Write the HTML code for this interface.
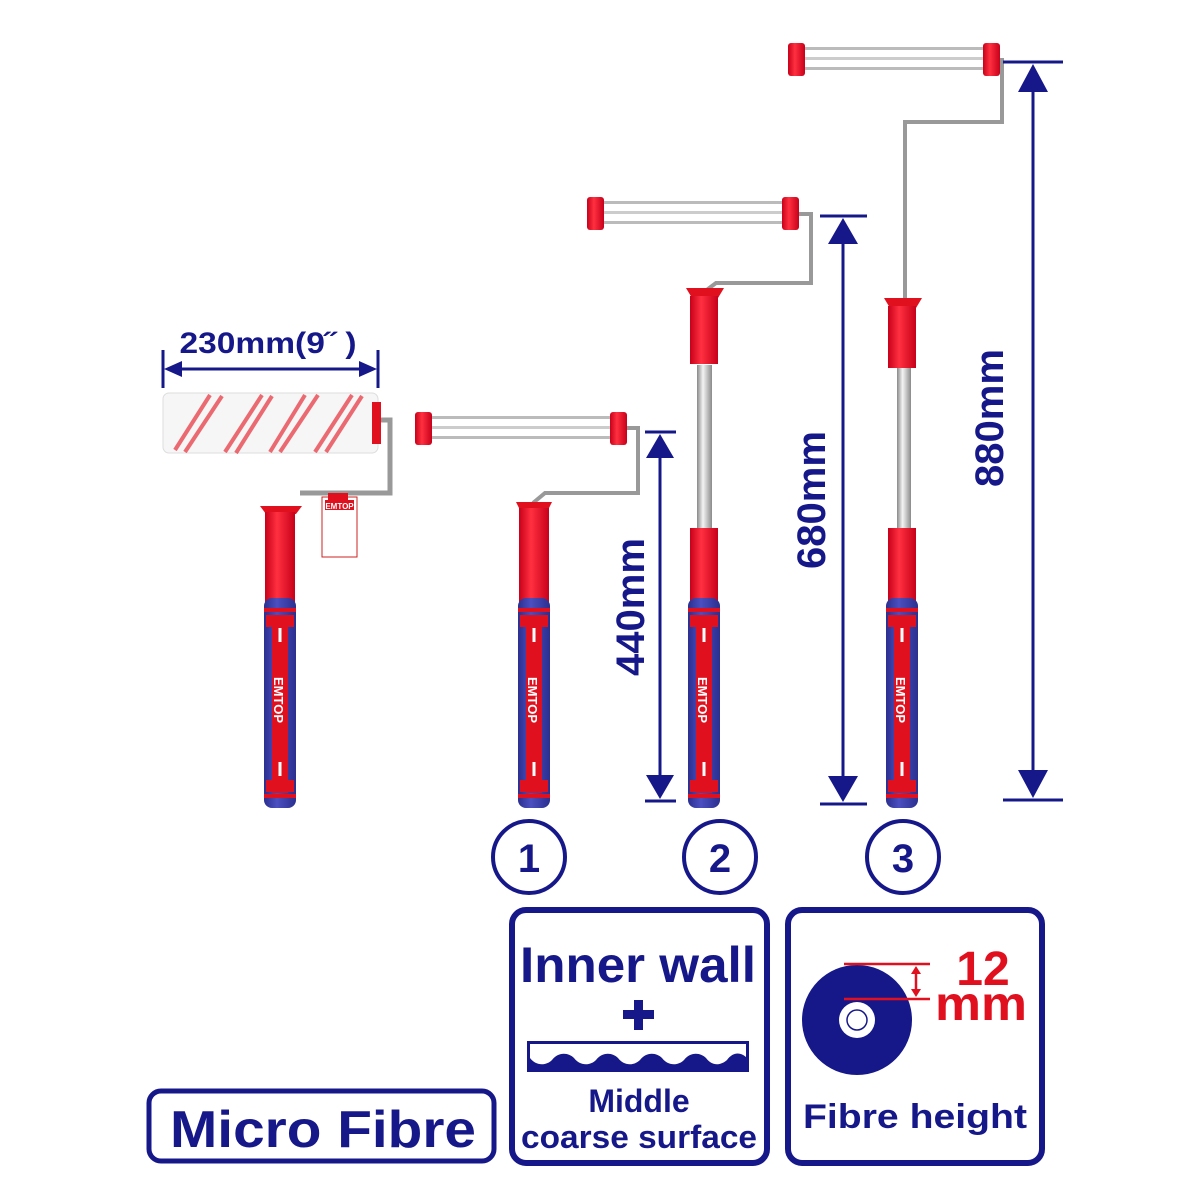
<!DOCTYPE html>
<html><head><meta charset="utf-8"><style>
html,body{margin:0;padding:0;background:#fff}
svg{display:block}
text{font-family:"Liberation Sans",sans-serif;font-weight:bold}
</style></head><body>
<svg width="1200" height="1200" viewBox="0 0 1200 1200" xmlns="http://www.w3.org/2000/svg">
<defs>
<linearGradient id="red" x1="0" x2="1"><stop offset="0" stop-color="#c8001a"/><stop offset=".4" stop-color="#ff3040"/><stop offset="1" stop-color="#c8001a"/></linearGradient>
<linearGradient id="blu" x1="0" x2="1"><stop offset="0" stop-color="#2b2f8f"/><stop offset=".4" stop-color="#4b4fc0"/><stop offset="1" stop-color="#2b2f8f"/></linearGradient>
<linearGradient id="met" x1="0" x2="1"><stop offset="0" stop-color="#888"/><stop offset=".4" stop-color="#f4f4f4"/><stop offset="1" stop-color="#8a8a8a"/></linearGradient>
<g id="grip">
<rect x="-16" y="598" width="32" height="210" rx="8" fill="url(#blu)"/>
<rect x="-16" y="608" width="32" height="4" fill="#e0101e"/>
<rect x="-16" y="794" width="32" height="4" fill="#e0101e"/>
<rect x="-8" y="615" width="16" height="178" fill="#e0101e"/>
<rect x="-14" y="615" width="28" height="12" fill="#e0101e"/>
<rect x="-14" y="780" width="28" height="12" fill="#e0101e"/>
<rect x="-1.5" y="628" width="3" height="14" fill="#fff"/>
<rect x="-1.5" y="762" width="3" height="14" fill="#fff"/>
</g>
<g id="cage">
<rect x="0" y="4" width="212" height="3" fill="#bbb"/>
<rect x="0" y="14" width="212" height="3" fill="#ccc"/>
<rect x="0" y="24" width="212" height="3" fill="#bbb"/>
<rect x="0" y="0" width="17" height="33" rx="3" fill="url(#red)"/>
<rect x="195" y="0" width="17" height="33" rx="3" fill="url(#red)"/>
</g>
</defs>

<!-- Roller 0 -->
<path d="M378 420 H390 V493 H300" fill="none" stroke="#999" stroke-width="5"/>
<rect x="163" y="393" width="215" height="60" rx="6" fill="#f6f6f6" stroke="#ddd"/>
<g stroke="#e8464f" stroke-width="4" fill="none" opacity=".8">
<path d="M175 450 L210 395 M185 452 L222 396 M225 452 L262 395 M236 453 L272 396 M270 452 L305 395 M280 452 L318 395 M315 452 L352 395 M326 452 L362 396"/>
</g>
<rect x="372" y="402" width="9" height="42" fill="#e0101e"/>
<rect x="322" y="497" width="35" height="60" fill="#fff" stroke="#c22"/>
<rect x="325" y="500" width="29" height="10" fill="#e0101e"/>
<text x="339.5" y="509" font-size="8" fill="#fff" text-anchor="middle">EMTOP</text>
<rect x="328" y="493" width="20" height="8" fill="#e0101e"/>
<path d="M260 506 H302 L296 514 H266 Z" fill="#e0101e"/>
<rect x="265" y="512" width="30" height="90" fill="url(#red)"/>
<use href="#grip" x="280"/>
<text transform="translate(274 700) rotate(90)" font-size="13" fill="#fff" text-anchor="middle">EMTOP</text>

<!-- 230 dimension -->
<g stroke="#16188a" stroke-width="3" fill="#16188a">
<line x1="163" y1="350" x2="163" y2="388"/><line x1="378" y1="350" x2="378" y2="388"/>
<line x1="170" y1="369" x2="372" y2="369"/>
<path d="M164 369 L182 361 L182 377Z" stroke="none"/><path d="M377 369 L359 361 L359 377Z" stroke="none"/>
</g>
<text x="268" y="353" font-size="30" fill="#16188a" text-anchor="middle" textLength="177" lengthAdjust="spacingAndGlyphs">230mm(9˝ )</text>

<!-- Tool 1 -->
<path d="M627 428 H638 V493 H545 L533 503" fill="none" stroke="#999" stroke-width="4"/>
<use href="#cage" x="415" y="412"/>
<path d="M516 502 H552 L548 510 H520 Z" fill="#e0101e"/>
<rect x="519" y="508" width="30" height="94" fill="url(#red)"/>
<use href="#grip" x="534"/>
<text transform="translate(528 700) rotate(90)" font-size="13" fill="#fff" text-anchor="middle">EMTOP</text>

<!-- Tool 2 -->
<path d="M798 214 H811 V283 H716 L704 292" fill="none" stroke="#999" stroke-width="4"/>
<use href="#cage" x="587" y="197"/>
<rect x="697" y="365" width="15" height="170" fill="url(#met)"/>
<path d="M686 288 H724 L718 298 H692 Z" fill="#e0101e"/>
<rect x="690" y="296" width="28" height="68" fill="url(#red)"/>
<rect x="690" y="528" width="28" height="74" fill="url(#red)"/>
<use href="#grip" x="704"/>
<text transform="translate(698 700) rotate(90)" font-size="13" fill="#fff" text-anchor="middle">EMTOP</text>

<!-- Tool 3 -->
<path d="M992 60 H1002 V122 H905 V300" fill="none" stroke="#999" stroke-width="4"/>
<use href="#cage" x="788" y="43"/>
<rect x="897" y="368" width="14" height="165" fill="url(#met)"/>
<path d="M884 298 H922 L916 308 H890 Z" fill="#e0101e"/>
<rect x="888" y="306" width="28" height="62" fill="url(#red)"/>
<rect x="888" y="528" width="28" height="74" fill="url(#red)"/>
<use href="#grip" x="902"/>
<text transform="translate(896 700) rotate(90)" font-size="13" fill="#fff" text-anchor="middle">EMTOP</text>

<!-- Dimensions -->
<g stroke="#16188a" stroke-width="3" fill="#16188a">
<line x1="645" y1="432" x2="676" y2="432"/><line x1="645" y1="801" x2="676" y2="801"/>
<line x1="660" y1="450" x2="660" y2="785"/>
<path d="M660 434 L646 458 H674Z" stroke="none"/><path d="M660 799 L646 775 H674Z" stroke="none"/>
<line x1="820" y1="216" x2="867" y2="216"/><line x1="820" y1="804" x2="867" y2="804"/>
<line x1="843" y1="235" x2="843" y2="785"/>
<path d="M843 218 L828 244 H858Z" stroke="none"/><path d="M843 802 L828 776 H858Z" stroke="none"/>
<line x1="1003" y1="62" x2="1063" y2="62"/><line x1="1003" y1="800" x2="1063" y2="800"/>
<line x1="1033" y1="80" x2="1033" y2="780"/>
<path d="M1033 64 L1018 92 H1048Z" stroke="none"/><path d="M1033 798 L1018 770 H1048Z" stroke="none"/>
</g>
<text transform="translate(644 607) rotate(-90)" font-size="40" fill="#16188a" text-anchor="middle">440mm</text>
<text transform="translate(825 500) rotate(-90)" font-size="40" fill="#16188a" text-anchor="middle">680mm</text>
<text transform="translate(1003 418) rotate(-90)" font-size="40" fill="#16188a" text-anchor="middle">880mm</text>

<!-- circles -->
<g fill="none" stroke="#16188a" stroke-width="4">
<circle cx="529" cy="857" r="36"/><circle cx="720" cy="857" r="36"/><circle cx="903" cy="857" r="36"/>
</g>
<g font-size="40" fill="#16188a" text-anchor="middle">
<text x="529" y="872">1</text><text x="720" y="872">2</text><text x="903" y="872">3</text>
</g>

<!-- boxes -->
<rect x="149" y="1091" width="345" height="70" rx="12" fill="none" stroke="#16188a" stroke-width="5"/>
<text x="323" y="1147" font-size="52" fill="#16188a" text-anchor="middle" textLength="306" lengthAdjust="spacingAndGlyphs">Micro Fibre</text>

<rect x="512" y="910" width="255" height="253" rx="14" fill="none" stroke="#16188a" stroke-width="6"/>
<text x="638" y="982" font-size="50" fill="#16188a" text-anchor="middle" textLength="236" lengthAdjust="spacingAndGlyphs">Inner wall</text>
<rect x="634" y="1000" width="9" height="30" fill="#16188a"/><rect x="623" y="1010" width="31" height="9" fill="#16188a"/>
<rect x="527" y="1041" width="222" height="31" fill="#16188a"/>
<path d="M530 1044 H746 V1057 C740 1052 733 1052 727 1060 C720 1066 712 1066 706 1058 C700 1052 690 1052 684 1060 C678 1066 668 1066 662 1058 C656 1052 646 1052 640 1060 C634 1066 624 1066 618 1058 C612 1052 602 1052 596 1060 C590 1066 580 1066 574 1058 C568 1052 558 1052 552 1060 C546 1066 536 1066 530 1058 Z" fill="#fff"/>
<text x="639" y="1112" font-size="32" fill="#16188a" text-anchor="middle">Middle</text>
<text x="639" y="1148" font-size="32" fill="#16188a" text-anchor="middle" textLength="236" lengthAdjust="spacingAndGlyphs">coarse surface</text>

<rect x="788" y="910" width="254" height="253" rx="14" fill="none" stroke="#16188a" stroke-width="6"/>
<circle cx="857" cy="1020" r="55" fill="#16188a"/>
<circle cx="857" cy="1020" r="18" fill="#fff"/>
<circle cx="857" cy="1020" r="10" fill="none" stroke="#16188a" stroke-width="1.5"/>
<g stroke="#e0101e" stroke-width="2.5" fill="#e0101e">
<line x1="844" y1="964" x2="930" y2="964"/><line x1="844" y1="999" x2="930" y2="999"/>
<line x1="916" y1="970" x2="916" y2="993"/>
<path d="M916 966 L911 974 H921Z" stroke="none"/><path d="M916 997 L911 989 H921Z" stroke="none"/>
</g>
<text x="983" y="985" font-size="48" fill="#e0101e" text-anchor="middle">12</text>
<text x="981" y="1020" font-size="48" fill="#e0101e" text-anchor="middle" textLength="92" lengthAdjust="spacingAndGlyphs">mm</text>
<text x="915" y="1128" font-size="34" fill="#16188a" text-anchor="middle" textLength="224" lengthAdjust="spacingAndGlyphs">Fibre height</text>
</svg>
</body></html>
